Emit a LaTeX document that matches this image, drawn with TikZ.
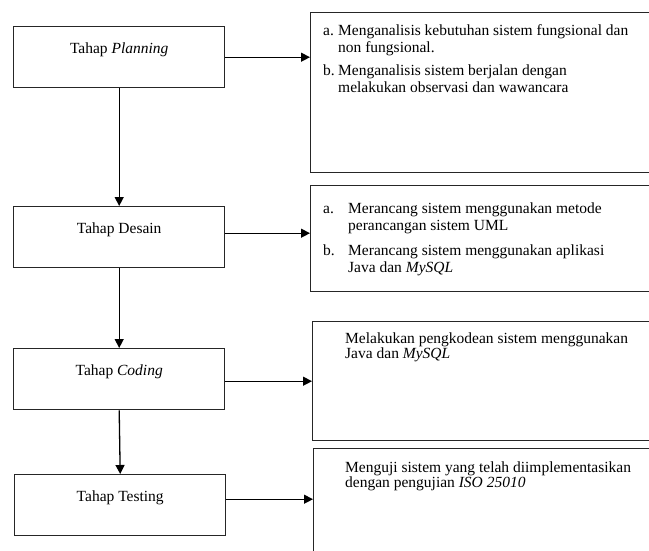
\documentclass[tikz,border=0pt]{standalone}
\usepackage{fontspec}
\setmainfont{Liberation Serif}
\usetikzlibrary{arrows.meta,calc}
\begin{document}
\begin{tikzpicture}[x=1pt,y=-1pt,
  box/.style={draw=black!85, line width=1.4pt, inner sep=0pt, anchor=north west},
  lbox/.style={box, minimum width=211pt, minimum height=61pt},
  txt/.style={inner sep=0pt, font=\fontsize{15.5}{17}\selectfont},
  ttxt/.style={inner sep=0pt, font=\fontsize{15.5}{15.5}\selectfont},
  arr/.style={line width=1.3pt, -{Triangle[length=9pt,width=9pt]}}]
\useasboundingbox (0,0) rectangle (649,550);
\clip (0,0) rectangle (649,550);
% left boxes
\node[lbox] (P) at (13,26) {};
\node[lbox] (D) at (13,206) {};
\node[lbox] (C) at (13,348) {};
\node[lbox] (T) at (14,474) {};
\node[txt, anchor=base, yshift=-27pt] (Pt) at (P.north) {Tahap \textit{Planning}};
\node[txt, anchor=base, yshift=-27pt] (Dt) at (D.north) {Tahap Desain};
\node[txt, anchor=base, yshift=-27pt] (Ct) at (C.north) {Tahap \textit{Coding}};
\node[txt, anchor=base, yshift=-27pt] (Tt) at (T.north) {Tahap Testing};
% right boxes
\node[box, minimum width=400pt, minimum height=160pt] (R1) at (310,12) {};
\node[box, minimum width=400pt, minimum height=106pt] (R2) at (310,185) {};
\node[box, minimum width=400pt, minimum height=119pt] (R3) at (312,321) {};
\node[box, minimum width=400pt, minimum height=130pt] (R4) at (313,448) {};
\node[txt, anchor=base west] (R1t) at ($(R1.north west)+(13,23)$) {%
  \begin{tabular}[t]{@{}p{15pt}@{}l@{}}
  a. & Menganalisis kebutuhan sistem fungsional dan\\
     & non fungsional.\\[6pt]
  b. & Menganalisis sistem berjalan dengan\\
     & melakukan observasi dan wawancara
  \end{tabular}};
\node[txt, anchor=base west] (R2t) at ($(R2.north west)+(13,28)$) {%
  \begin{tabular}[t]{@{}p{25pt}@{}l@{}}
  a. & Merancang sistem menggunakan metode\\
     & perancangan sistem UML\\[8pt]
  b. & Merancang sistem menggunakan aplikasi\\
     & Java dan \textit{MySQL}
  \end{tabular}};
\node[ttxt, anchor=base west] (R3t) at ($(R3.north west)+(33,22)$) {%
  \begin{tabular}[t]{@{}l@{}}
  Melakukan pengkodean sistem menggunakan\\
  Java dan \textit{MySQL}
  \end{tabular}};
\node[ttxt, anchor=base west] (R4t) at ($(R4.north west)+(32,24)$) {%
  \begin{tabular}[t]{@{}l@{}}
  Menguji sistem yang telah diimplementasikan\\
  dengan pengujian \textit{ISO 25010}
  \end{tabular}};
% connectors
\draw[arr] (P.south) -- (D.north);
\draw[arr] (D.south) -- (C.north);
\draw[arr] (C.south) -- (T.north);
\draw[arr] (P.east) -- (P.east -| R1.west);
\draw[arr] ([yshift=4pt]D.east) -- ([yshift=4pt]D.east -| R2.west);
\draw[arr] ([yshift=-2pt]C.east) -- ([yshift=-2pt]C.east -| R3.west);
\draw[arr] ([yshift=6pt]T.east) -- ([yshift=6pt]T.east -| R4.west);
\end{tikzpicture}
\end{document}
